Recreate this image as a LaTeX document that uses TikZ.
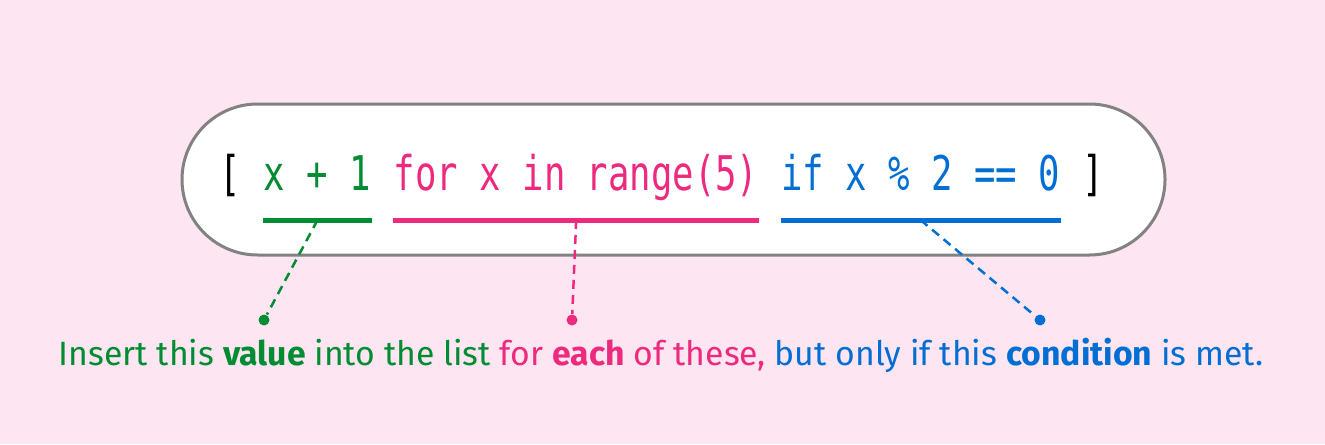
\documentclass[tikz,border=0pt]{standalone}
\usepackage{fontspec}
\setmainfont{Fira Sans}
\newfontfamily\codefont{DejaVu Sans Mono}[FakeStretch=0.745]
\usepackage{tikz}
\usetikzlibrary{positioning, shapes.misc}
\definecolor{bgpink}{HTML}{FDE5F1}
\definecolor{valgreen}{HTML}{008C32}
\definecolor{looppink}{HTML}{EE2A7E}
\definecolor{condblue}{HTML}{006ED2}
\definecolor{pillgray}{HTML}{828282}
\tikzset{
    pill/.style={rounded rectangle, draw=pillgray, line width=0.3mm, fill=white, inner sep=0pt},
    codetext/.style={inner sep=0pt, font=\codefont\fontsize{13.6}{16}\selectfont},
    underline/.style={line width=0.5mm},
    leader/.style={line width=0.25mm, dash pattern=on 0.9mm off 0.6mm},
    dot/.style={circle, inner sep=0pt, minimum size=1.1mm},
    caption/.style={inner sep=0pt, font=\fontsize{9.6}{12}\selectfont}
}

\begin{document}
\begin{tikzpicture}[x=0.1mm, y=-0.1mm, node distance=2.14mm]
    \fill[bgpink] (0,0) rectangle (1325,444);
    \node[pill, minimum width=98.3mm, minimum height=15.1mm] (pill) at (673.5,179.5) {};
    % the comprehension, one node per part
    \node[codetext, anchor=base west] (lbrack) at (219,190) {[};
    \node[codetext, text=valgreen, base right=of lbrack] (value) {x + 1};
    \node[codetext, text=looppink, base right=of value] (loop) {for x in range(5)};
    \node[codetext, text=condblue, base right=of loop] (cond) {if x \% 2 == 0};
    \node[codetext, base right=of cond] (rbrack) {]};
    % underlines
    \draw[underline, valgreen] ([yshift=-3mm]value.base west) -- coordinate (valmid) ([yshift=-3mm]value.base east);
    \draw[underline, looppink] ([yshift=-3mm]loop.base west) -- coordinate (loopmid) ([yshift=-3mm]loop.base east);
    \draw[underline, condblue] ([yshift=-3mm]cond.base west) -- coordinate (condmid) ([yshift=-3mm]cond.base east);
    % dots and leaders
    \node[dot, fill=valgreen] (valdot) at (264,320) {};
    \node[dot, fill=looppink] (loopdot) at (572,320) {};
    \node[dot, fill=condblue] (conddot) at (1040,320) {};
    \draw[leader, valgreen] (valmid) -- (valdot);
    \draw[leader, looppink] (loopmid) -- (loopdot);
    \draw[leader, condblue] (condmid) -- (conddot);
    \node[caption, anchor=base] (note) at (661,365) {\color{valgreen}Insert this \textbf{value} into the list \color{looppink}for \textbf{each} of these, \color{condblue}but only if this \textbf{condition} is met.};
\end{tikzpicture}
\end{document}
